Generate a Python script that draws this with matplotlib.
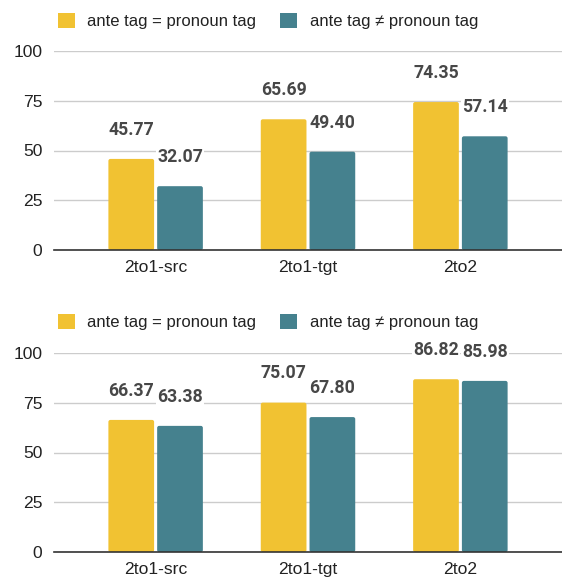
import matplotlib
matplotlib.use("Agg")
import matplotlib.pyplot as plt
from matplotlib.patches import Patch, FancyBboxPatch
import numpy as np

plt.rcParams['font.family'] = ['Liberation Sans', 'DejaVu Sans']

categories = ["2to1-src", "2to1-tgt", "2to2"]
series_names = ["ante tag = pronoun tag", "ante tag \u2260 pronoun tag"]
top_same = [45.77, 65.69, 74.35]
top_diff = [32.07, 49.40, 57.14]
bottom_same = [66.37, 75.07, 86.82]
bottom_diff = [63.38, 67.80, 85.98]
y_ticks = [0, 25, 50, 75, 100]

colors = ["#f1c232", "#45818e"]
W, H = 562, 580
fig = plt.figure(figsize=(W / 100, H / 100), dpi=100)


def panel(y_bottom_px, same, diff, legend_y_px):
    ax = fig.add_axes([54 / W, (H - y_bottom_px) / H, (W - 54) / W, 199 / H])
    x = np.arange(len(categories))
    bw = 0.30
    off = 0.16
    ax.set_xlim(-0.667, 2.667)
    ax.set_ylim(0, 100)
    # data units per pixel on each axis, for rounded bar corners
    xu = (2.667 + 0.667) / (W - 54)
    yu = 100 / 199
    for vals, dx, c in [(same, -off, colors[0]), (diff, off, colors[1])]:
        bars = ax.bar(x + dx, vals, width=bw, color=c, zorder=3)
        for b, v in zip(bars, vals):
            b.set_visible(False)
            ax.add_patch(FancyBboxPatch((b.get_x(), 0), b.get_width(), v,
                                        boxstyle=f"round,pad=0,rounding_size={2 * xu}",
                                        mutation_aspect=yu / xu, fc=c, ec="none",
                                        zorder=3))
            ax.annotate(f"{v:.2f}", (b.get_x() + b.get_width() / 2, v),
                        xytext=(0, 21), textcoords="offset points",
                        ha="center", va="center", fontsize=12.7,
                        fontweight="bold", color="#474747", zorder=5,
                        family=['Roboto', 'DejaVu Sans'],
                        bbox=dict(boxstyle="square,pad=0.05", fc="white", ec="none"),
                        annotation_clip=False)
    ax.set_yticks(y_ticks)
    ax.set_xticks(x)
    ax.set_xticklabels(categories)
    ax.grid(axis="y", color="#cccccc", linewidth=1, zorder=0)
    for s in ["top", "right", "left"]:
        ax.spines[s].set_visible(False)
    ax.spines["bottom"].set_color("#333333")
    ax.spines["bottom"].set_linewidth(1.2)
    ax.spines["bottom"].set_zorder(4)
    ax.tick_params(axis="both", length=0, labelsize=12.6, colors="#222222")
    ax.tick_params(axis="y", pad=8.5)
    ax.tick_params(axis="x", pad=7)
    handles = [Patch(facecolor=c, edgecolor="none") for c in colors]
    fig.legend(handles, series_names, loc="center left",
               bbox_to_anchor=(43 / W, 1 - legend_y_px / H), ncol=2,
               frameon=False, fontsize=12, handlelength=1.0, handleheight=1.0,
               handletextpad=0.75, columnspacing=1.45, labelcolor="#222222")
    return ax


panel(250, top_same, top_diff, 21)
panel(552, bottom_same, bottom_diff, 322)

fig.savefig("out.png", dpi=100)
